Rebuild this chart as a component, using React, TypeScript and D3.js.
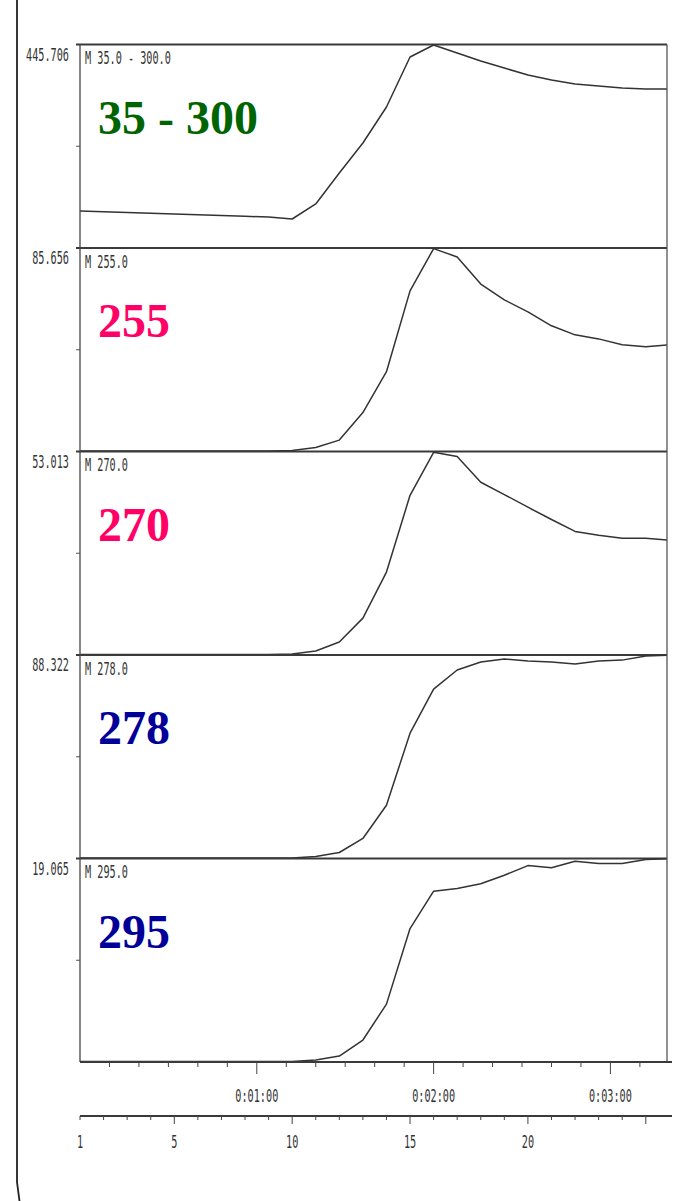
import React from "react";
import * as d3 from "d3";

// ---------- data ----------
const scans = [1, 2, 3, 4, 5, 6, 7, 8, 9, 10, 11, 12, 13, 14, 15, 16, 17, 18, 19, 20, 21, 22, 23, 24, 25, 26];

const panelTitles = ["M 35.0 - 300.0", "M 255.0", "M 270.0", "M 278.0", "M 295.0"];
const panelMax = [445.706, 85.656, 53.013, 88.322, 19.065];
const bigLabels = ["35 - 300", "255", "270", "278", "295"];
const bigColors = ["#006400", "#ff0066", "#ff0066", "#000099", "#000099"];

const ticValues = [81.0, 79.3, 77.7, 76.0, 74.5, 72.7, 71.2, 69.4, 67.9, 63.5, 96.4, 164.3, 230.0, 308.8, 418.3, 444.6, 427.0, 409.5, 394.2, 378.9, 367.9, 359.2, 354.8, 350.4, 348.2, 348.2];
const m255Values = [0.2, 0.2, 0.2, 0.2, 0.2, 0.2, 0.2, 0.2, 0.2, 0.4, 1.7, 4.8, 16.4, 33.6, 67.6, 85.4, 81.9, 70.5, 63.8, 58.8, 52.9, 49.1, 47.4, 44.9, 44.1, 44.9];
const m270Values = [0.13, 0.13, 0.13, 0.13, 0.13, 0.13, 0.13, 0.13, 0.13, 0.26, 1.04, 3.4, 9.6, 21.6, 41.6, 52.8, 51.7, 45.0, 41.8, 38.5, 35.3, 32.2, 31.2, 30.4, 30.4, 29.9];
const m278Values = [0.2, 0.2, 0.2, 0.2, 0.2, 0.2, 0.2, 0.2, 0.2, 0.2, 0.9, 2.6, 8.7, 23.1, 54.4, 73.5, 81.8, 85.3, 86.6, 85.7, 85.3, 84.4, 85.7, 86.1, 87.9, 88.3];
const m295Values = [0.05, 0.05, 0.05, 0.05, 0.05, 0.05, 0.05, 0.05, 0.05, 0.05, 0.19, 0.56, 2.06, 5.42, 12.5, 16.0, 16.26, 16.7, 17.5, 18.4, 18.2, 18.8, 18.6, 18.6, 18.97, 19.06];
const seriesList = [ticValues, m255Values, m270Values, m278Values, m295Values];

const timeMajorTicks = [60, 120, 180]; // seconds
const scanTickLabels = [1, 5, 10, 15, 20];
const secondsPerScan = 8;

// ---------- layout ----------
const W = 675;
const H = 1201;
const left = 80;
const right = 667;
const top0 = 44.5;
const panelH = 203.5;
const nPanels = 5;
const bottom = top0 + panelH * nPanels;
const scanMaxDomain = 25.9;

const ink = "#333";
const mono = "'DejaVu Sans Mono', 'Liberation Mono', monospace";

function fmtTime(s: number) {
  const h = Math.floor(s / 3600);
  const m = Math.floor((s % 3600) / 60);
  const sec = Math.round(s % 60);
  return `${h}:${String(m).padStart(2, "0")}:${String(sec).padStart(2, "0")}`;
}

function Dot({ x, y, anchor, children }: { x: number; y: number; anchor?: string; children: any }) {
  return (
    <g transform={`translate(${x},${y}) scale(0.6,1)`}>
      <text x={0} y={0} fontFamily={mono} fontSize={17} fill="#333" textAnchor={anchor || "start"}>
        {children}
      </text>
    </g>
  );
}

export default function App() {
  const x = d3.scaleLinear().domain([1, scanMaxDomain]).range([left, right]);
  const tx = d3.scaleLinear().domain([0, (scanMaxDomain - 1) * secondsPerScan]).range([left, right]);

  const minorTimes = d3.range(10, (scanMaxDomain - 1) * secondsPerScan, 10);
  const scanTicks = scans.filter((s) => s <= scanMaxDomain);

  const scanAxisY = 1116;

  return (
    <svg width={W} height={H} style={{ position: "absolute", left: 0, top: 0, display: "block", background: "#fff" }}>
      <defs>
        <clipPath id="plotClip">
          <rect x={left} y={top0 - 2} width={right - left} height={bottom - top0 + 2} />
        </clipPath>
      </defs>

      {/* scanned page edge */}
      <path d="M17,0 L17,1182 L19.5,1201" fill="none" stroke="#222" strokeWidth={1.8} />

      {panelTitles.map((title, i) => {
        const pTop = top0 + i * panelH;
        const pBot = pTop + panelH;
        const y = d3.scaleLinear().domain([0, panelMax[i]]).range([pBot, pTop]);
        const line = d3
          .line<number>()
          .x((_, j) => x(scans[j]))
          .y((v) => y(v));
        return (
          <g key={i}>
            {/* panel top border */}
            <line x1={left - 4} x2={right} y1={pTop} y2={pTop} stroke="#3a3a3a" strokeWidth={2.2} />
            {/* mid tick */}
            <line x1={left - 4} x2={left} y1={(pTop + pBot) / 2} y2={(pTop + pBot) / 2} stroke="#555" strokeWidth={1} />
            <Dot x={69} y={pTop + 16} anchor="end">
              {panelMax[i].toFixed(3)}
            </Dot>
            <Dot x={85} y={pTop + 19.5}>
              {title}
            </Dot>
            <text
              x={98}
              y={pTop + 89}
              fontFamily="'Liberation Serif', 'Times New Roman', serif"
              fontWeight="bold"
              fontSize={48}
              fill={bigColors[i]}
            >
              {bigLabels[i]}
            </text>
            <path d={line(seriesList[i]) || ""} fill="none" stroke={ink} strokeWidth={1.5} strokeLinejoin="round" clipPath="url(#plotClip)" />
          </g>
        );
      })}

      {/* frame */}
      <line x1={left} x2={left} y1={top0} y2={bottom} stroke="#444" strokeWidth={1.3} />
      <line x1={right} x2={right} y1={top0} y2={bottom} stroke="#555" strokeWidth={1.3} />
      <line x1={left} x2={672} y1={bottom} y2={bottom} stroke="#3a3a3a" strokeWidth={2.2} />

      {/* time axis */}
      {minorTimes.map((t) => {
        const major = timeMajorTicks.includes(t);
        return (
          <line key={t} x1={tx(t)} x2={tx(t)} y1={bottom} y2={bottom + (major ? 12 : 5)} stroke="#444" strokeWidth={1} />
        );
      })}
      {timeMajorTicks.map((t) => (
        <Dot key={t} x={tx(t)} y={1102} anchor="middle">
          {fmtTime(t)}
        </Dot>
      ))}

      {/* scan axis */}
      <line x1={left} x2={672} y1={scanAxisY} y2={scanAxisY} stroke="#3a3a3a" strokeWidth={2} />
      {scanTicks.map((s) => {
        const major = s % 5 === 0;
        return (
          <line key={s} x1={x(s)} x2={x(s)} y1={scanAxisY} y2={scanAxisY + (major ? 8 : 4)} stroke="#444" strokeWidth={1} />
        );
      })}
      {scanTickLabels.map((s) => (
        <Dot key={s} x={x(s)} y={1148} anchor="middle">
          {s}
        </Dot>
      ))}
    </svg>
  );
}
